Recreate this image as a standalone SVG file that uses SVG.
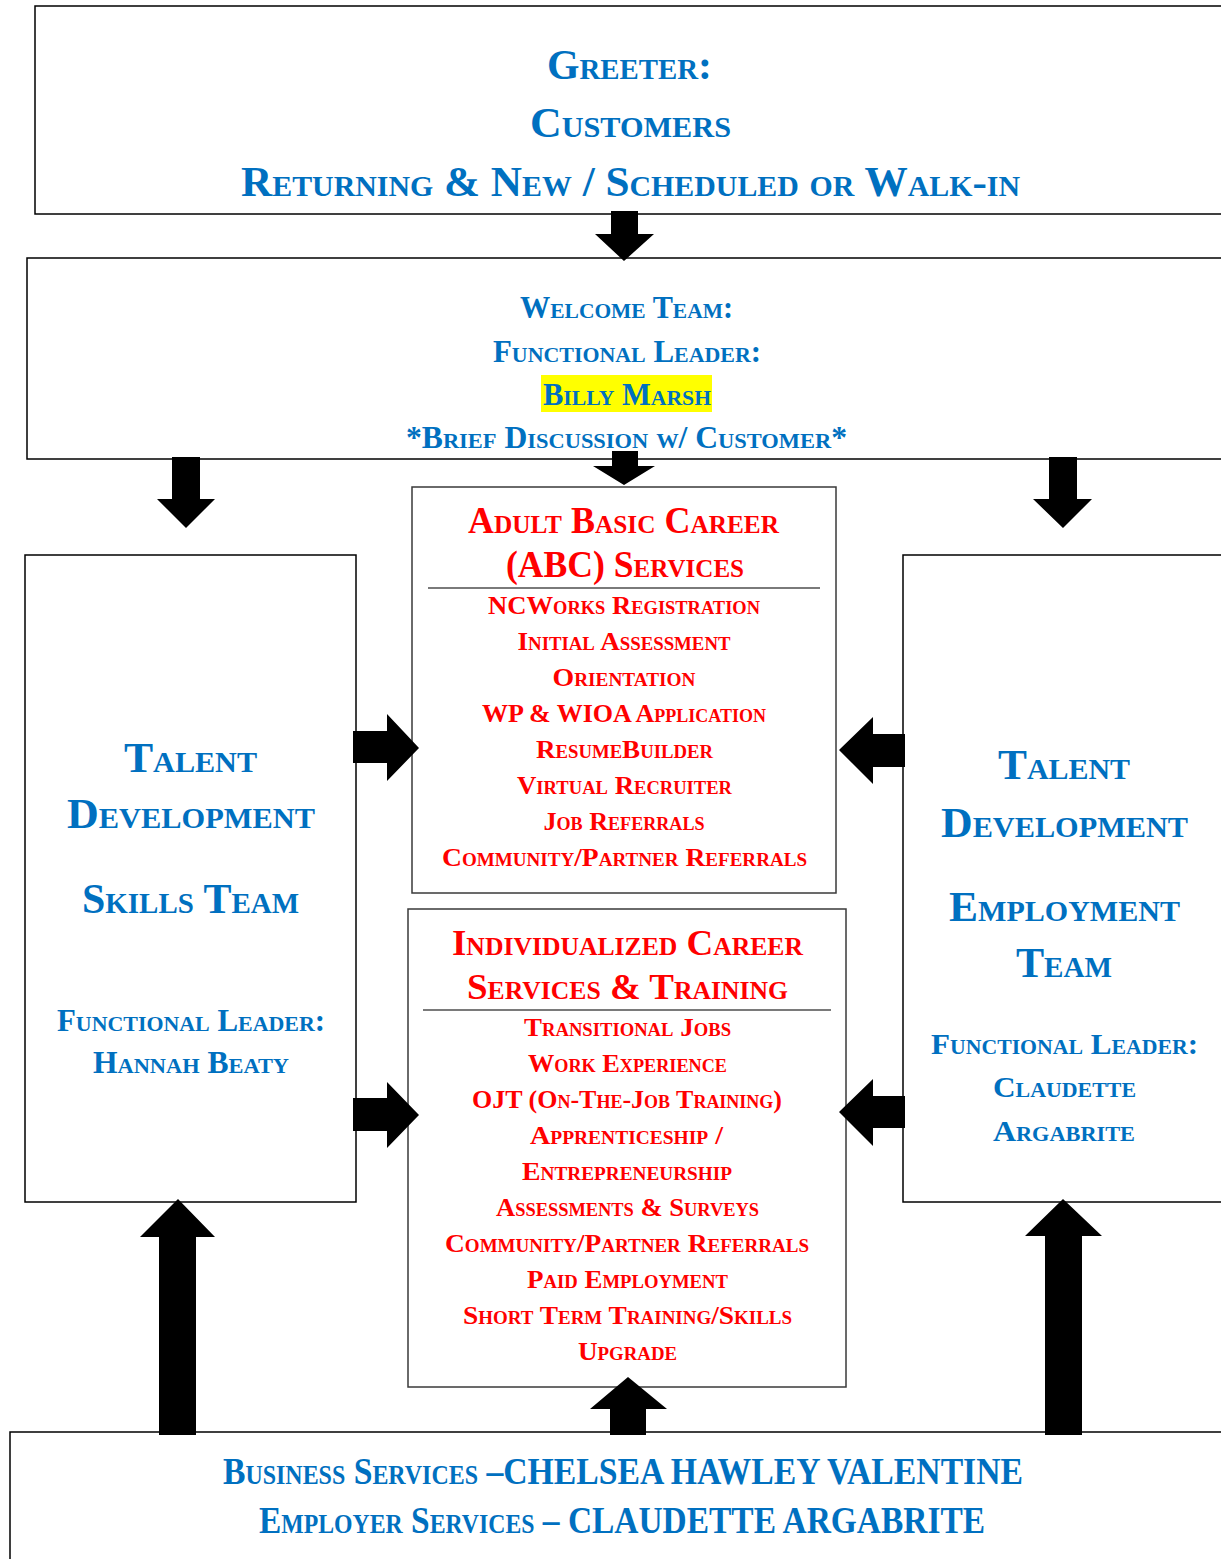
<svg xmlns="http://www.w3.org/2000/svg" width="1221" height="1559" viewBox="0 0 1221 1559">
<style>
text { font-family: "Liberation Serif", "DejaVu Serif", serif; font-weight: bold; font-variant: small-caps; text-anchor: middle; }
.blue { fill: #0070C0; }
.red { fill: #FF0000; }
.box { fill: #FFFFFF; stroke: #000000; stroke-width: 1.5; }
.ibox { fill: #FFFFFF; stroke: #3a3a3a; stroke-width: 1.5; }
.sep { stroke: #7a7a7a; stroke-width: 2; }
.arrow { fill: #000000; }
</style>
<rect x="0" y="0" width="1221" height="1559" fill="#FFFFFF"/>

<g id="greeter">
<rect class="box" x="35" y="6" width="1200" height="208"/>
<text class="blue" x="629.5" y="79" font-size="42" textLength="165" lengthAdjust="spacingAndGlyphs">Greeter:</text>
<text class="blue" x="630.5" y="137" font-size="42" textLength="201" lengthAdjust="spacingAndGlyphs">Customers</text>
<text class="blue" x="630.5" y="196" font-size="42" textLength="779" lengthAdjust="spacingAndGlyphs">Returning &amp; New / Scheduled or Walk-in</text>
</g>

<g id="welcome">
<rect class="box" x="27" y="258" width="1210" height="201"/>
<rect x="541" y="375" width="171" height="37" fill="#FFFF00"/>
<text class="blue" x="626.5" y="318" font-size="31" textLength="213" lengthAdjust="spacingAndGlyphs">Welcome Team:</text>
<text class="blue" x="627" y="362" font-size="31" textLength="268" lengthAdjust="spacingAndGlyphs">Functional Leader:</text>
<text class="blue" x="627" y="405" font-size="31" textLength="168" lengthAdjust="spacingAndGlyphs">Billy Marsh</text>
<text class="blue" x="626.5" y="448" font-size="31" textLength="441" lengthAdjust="spacingAndGlyphs">*Brief Discussion w/ Customer*</text>
</g>

<g id="abc">
<rect class="ibox" x="412" y="487" width="424" height="406"/>
<text class="red" x="623.5" y="533" font-size="37" textLength="311" lengthAdjust="spacingAndGlyphs">Adult Basic Career</text>
<text class="red" x="625" y="577" font-size="37" textLength="238" lengthAdjust="spacingAndGlyphs">(ABC) Services</text>
<line class="sep" x1="428" y1="588" x2="820" y2="588"/>
<text class="red" x="624" y="614" font-size="26" textLength="272" lengthAdjust="spacingAndGlyphs">NCWorks Registration</text>
<text class="red" x="624" y="650" font-size="26" textLength="213" lengthAdjust="spacingAndGlyphs">Initial Assessment</text>
<text class="red" x="624" y="686" font-size="26" textLength="143" lengthAdjust="spacingAndGlyphs">Orientation</text>
<text class="red" x="624" y="722" font-size="26" textLength="284" lengthAdjust="spacingAndGlyphs">WP &amp; WIOA Application</text>
<text class="red" x="624.5" y="758" font-size="26" textLength="177" lengthAdjust="spacingAndGlyphs">ResumeBuilder</text>
<text class="red" x="624.5" y="794" font-size="26" textLength="215" lengthAdjust="spacingAndGlyphs">Virtual Recruiter</text>
<text class="red" x="624" y="830" font-size="26" textLength="161" lengthAdjust="spacingAndGlyphs">Job Referrals</text>
<text class="red" x="624.5" y="866" font-size="26" textLength="365" lengthAdjust="spacingAndGlyphs">Community/Partner Referrals</text>
</g>

<g id="ics">
<rect class="ibox" x="408" y="909" width="438" height="478"/>
<text class="red" x="627.5" y="955" font-size="36" textLength="351" lengthAdjust="spacingAndGlyphs">Individualized Career</text>
<text class="red" x="627.5" y="999" font-size="36" textLength="321" lengthAdjust="spacingAndGlyphs">Services  &amp; Training</text>
<line class="sep" x1="423" y1="1010" x2="831" y2="1010"/>
<text class="red" x="627.5" y="1036" font-size="26" textLength="207" lengthAdjust="spacingAndGlyphs">Transitional Jobs</text>
<text class="red" x="627.5" y="1072" font-size="26" textLength="199" lengthAdjust="spacingAndGlyphs">Work Experience</text>
<text class="red" x="627" y="1108" font-size="26" textLength="310" lengthAdjust="spacingAndGlyphs">OJT (On-The-Job Training)</text>
<text class="red" x="626.5" y="1144" font-size="26" textLength="193" lengthAdjust="spacingAndGlyphs">Apprenticeship /</text>
<text class="red" x="627" y="1180" font-size="26" textLength="210" lengthAdjust="spacingAndGlyphs">Entrepreneurship</text>
<text class="red" x="627.5" y="1216" font-size="26" textLength="263" lengthAdjust="spacingAndGlyphs">Assessments &amp; Surveys</text>
<text class="red" x="627" y="1252" font-size="26" textLength="364" lengthAdjust="spacingAndGlyphs">Community/Partner Referrals</text>
<text class="red" x="627.5" y="1288" font-size="26" textLength="201" lengthAdjust="spacingAndGlyphs">Paid Employment</text>
<text class="red" x="627.5" y="1324" font-size="26" textLength="329" lengthAdjust="spacingAndGlyphs">Short Term Training/Skills</text>
<text class="red" x="627.5" y="1360" font-size="26" textLength="99" lengthAdjust="spacingAndGlyphs">Upgrade</text>
</g>

<g id="skills-team">
<rect class="box" x="25" y="555" width="331" height="647"/>
<text class="blue" x="190.5" y="772" font-size="42" textLength="133" lengthAdjust="spacingAndGlyphs">Talent</text>
<text class="blue" x="191" y="828" font-size="42" textLength="248" lengthAdjust="spacingAndGlyphs">Development</text>
<text class="blue" x="190.5" y="913" font-size="42" textLength="217" lengthAdjust="spacingAndGlyphs">Skills Team</text>
<text class="blue" x="191" y="1031" font-size="31" textLength="268" lengthAdjust="spacingAndGlyphs">Functional Leader:</text>
<text class="blue" x="191" y="1073" font-size="31" textLength="196" lengthAdjust="spacingAndGlyphs">Hannah Beaty</text>
</g>

<g id="employment-team">
<rect class="box" x="903" y="555" width="330" height="647"/>
<text class="blue" x="1064" y="779" font-size="42" textLength="132" lengthAdjust="spacingAndGlyphs">Talent</text>
<text class="blue" x="1064.5" y="837" font-size="42" textLength="247" lengthAdjust="spacingAndGlyphs">Development</text>
<text class="blue" x="1064.5" y="921" font-size="42" textLength="231" lengthAdjust="spacingAndGlyphs">Employment</text>
<text class="blue" x="1064" y="977" font-size="42" textLength="96" lengthAdjust="spacingAndGlyphs">Team</text>
<text class="blue" x="1064.5" y="1054" font-size="30" textLength="267" lengthAdjust="spacingAndGlyphs">Functional Leader:</text>
<text class="blue" x="1064.5" y="1097" font-size="30" textLength="143" lengthAdjust="spacingAndGlyphs">Claudette</text>
<text class="blue" x="1064" y="1141" font-size="30" textLength="142" lengthAdjust="spacingAndGlyphs">Argabrite</text>
</g>

<g id="business-services">
<rect class="box" x="10" y="1432" width="1230" height="140"/>
<text class="blue" x="623" y="1484" font-size="38" textLength="800" lengthAdjust="spacingAndGlyphs">Business Services –CHELSEA HAWLEY VALENTINE</text>
<text class="blue" x="622" y="1533" font-size="38" textLength="726" lengthAdjust="spacingAndGlyphs">Employer Services – CLAUDETTE ARGABRITE</text>
</g>

<g id="connectors">
<polygon class="arrow" points="611,211 638,211 638,234 654,234 624,261 595,234 611,234"/>
<polygon class="arrow" points="612,451 638,451 638,466 655,466 624,485 593,466 612,466"/>
<polygon class="arrow" points="172,457 200,457 200,499 215,499 186,528 157,499 172,499"/>
<polygon class="arrow" points="1049,457 1077,457 1077,499 1092,499 1063,528 1033,499 1049,499"/>
<polygon class="arrow" points="353,731 387,731 387,714 419,748 387,781 387,763 353,763"/>
<polygon class="arrow" points="353,1098 387,1098 387,1082 419,1115 387,1148 387,1131 353,1131"/>
<polygon class="arrow" points="905,734 873,734 873,717 839,750 873,784 873,767 905,767"/>
<polygon class="arrow" points="905,1096 873,1096 873,1079 839,1112 873,1146 873,1128 905,1128"/>
<polygon class="arrow" points="159,1435 159,1237 140,1237 178,1199 215,1237 196,1237 196,1435"/>
<polygon class="arrow" points="1045,1435 1045,1236 1025,1236 1063,1199 1102,1236 1082,1236 1082,1435"/>
<polygon class="arrow" points="610,1435 610,1409 590,1409 628,1377 667,1409 646,1409 646,1435"/>
</g>
</svg>
